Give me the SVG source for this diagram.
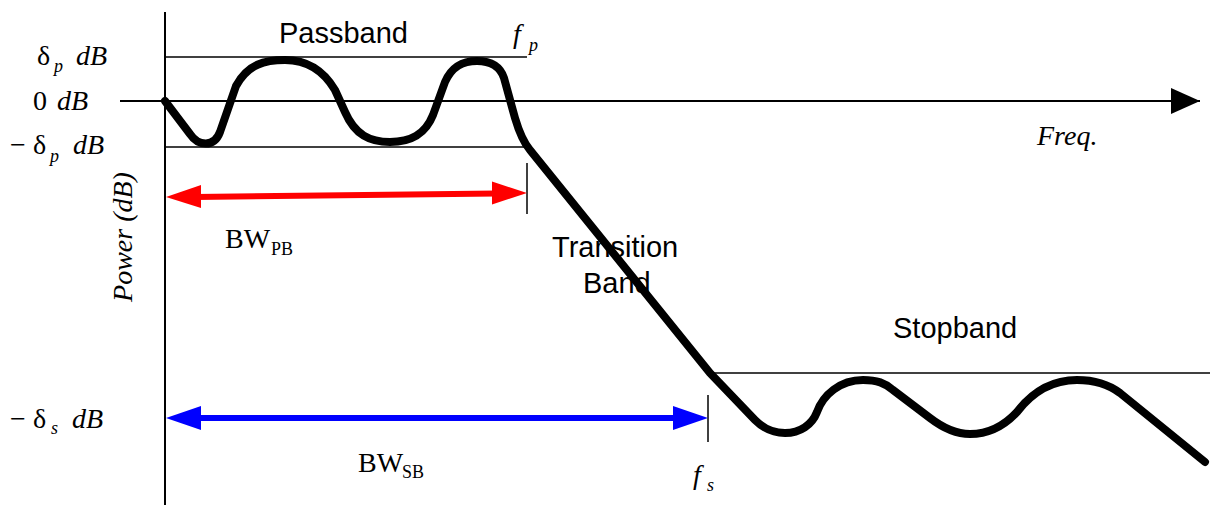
<svg xmlns="http://www.w3.org/2000/svg" width="1211" height="506" viewBox="0 0 1211 506">
<style>
.ax{stroke:#000;stroke-width:2;fill:none}
.thin{stroke:#000;stroke-width:1.5;fill:none}
.curve{stroke:#000;stroke-width:8;fill:none;stroke-linejoin:round;stroke-linecap:round}
.sans{font-family:"Liberation Sans",Arial,sans-serif;font-size:29px;fill:#000}
.ser{font-family:"Liberation Serif","Times New Roman",serif;font-size:28px;fill:#000}
.it{font-style:italic}
.sub{font-size:18px}
.bsub{font-size:18px}
</style>
<defs>
<marker id="ah" markerWidth="30" markerHeight="28" refX="29" refY="13" orient="auto" markerUnits="userSpaceOnUse"><path d="M0,0 L29,13 L0,26 Z" fill="#000"/></marker>
</defs>
<g id="axes">
<line class="ax" x1="165" y1="12" x2="165" y2="505"/>
<line class="ax" x1="120" y1="101" x2="1200" y2="101" marker-end="url(#ah)"/>
</g>
<g id="connectors">
<line class="thin" x1="165" y1="57" x2="527" y2="57"/>
<line class="thin" x1="165" y1="147" x2="527" y2="147"/>
<line class="thin" x1="710" y1="373" x2="1210" y2="373"/>
<line class="thin" x1="527" y1="163" x2="527" y2="214"/>
<line class="thin" x1="708" y1="395" x2="708" y2="442"/>
<g id="bwpb-arrow">
<line x1="195" y1="197" x2="497" y2="193.5" stroke="#ff0000" stroke-width="6"/>
<path d="M166,197 L201,185 L201,208 Z" fill="#ff0000"/>
<path d="M527,193 L492,181.5 L492,204.5 Z" fill="#ff0000"/>
</g>
<g id="bwsb-arrow">
<line x1="195" y1="418" x2="680" y2="418" stroke="#0000ff" stroke-width="6"/>
<path d="M166,418 L201,406 L201,430 Z" fill="#0000ff"/>
<path d="M708,418 L673,406 L673,430 Z" fill="#0000ff"/>
</g>
</g>
<g id="response">
<path class="curve" d="M165,101 L190,134 C198,146 214,148 220,132 L236,86 C248,64 265,60 285,60 C305,60 322,68 335,90 L345,112 C355,135 370,142 390,142 C410,142 425,135 433,115 L445,82 C452,66 463,61 477,61 C490,61 500,66 504,78 L515,118 C520,135 524,143 530,150 L710,373 L755,420 C765,430 775,433 785,433 C800,433 812,425 817,412 C823,395 840,380 863,380 C877,380 885,383 893,390 L930,418 C943,428 955,434 970,434 C990,434 1005,425 1017,412 C1030,395 1050,380 1077,380 C1095,380 1108,384 1120,393 L1205,462"/>
</g>
<g id="labels">
<text class="sans" x="279" y="43">Passband</text>
<text class="sans" x="552" y="257">Transition</text>
<text class="sans" x="583" y="293">Band</text>
<text class="sans" x="893" y="338">Stopband</text>
<text class="ser" x="37" y="65">δ<tspan class="sub it" x="54" y="72">p</tspan><tspan class="it" x="76" y="65">dB</tspan></text>
<text class="ser" x="33" y="110">0<tspan class="it" x="57">dB</tspan></text>
<text class="ser" x="10" y="154">−<tspan x="33">δ</tspan><tspan class="sub it" x="50" y="162">p</tspan><tspan class="it" x="73" y="154">dB</tspan></text>
<text class="ser" x="10" y="428">−<tspan x="33">δ</tspan><tspan class="sub it" x="51" y="434">s</tspan><tspan class="it" x="72" y="428">dB</tspan></text>
<text class="ser it" x="513" y="43">f<tspan class="sub" x="529" y="51">p</tspan></text>
<text class="ser it" x="693" y="484">f<tspan class="sub" x="707" y="491">s</tspan></text>
<text class="ser it" x="1037" y="145">Freq.</text>
<text class="ser" x="225" y="248">BW<tspan class="bsub" x="271" y="255">PB</tspan></text>
<text class="ser" x="358" y="472">BW<tspan class="bsub" x="402" y="478">SB</tspan></text>
<text class="ser it" transform="translate(132,237) rotate(-90)" text-anchor="middle">Power (dB)</text>
</g>
</svg>
